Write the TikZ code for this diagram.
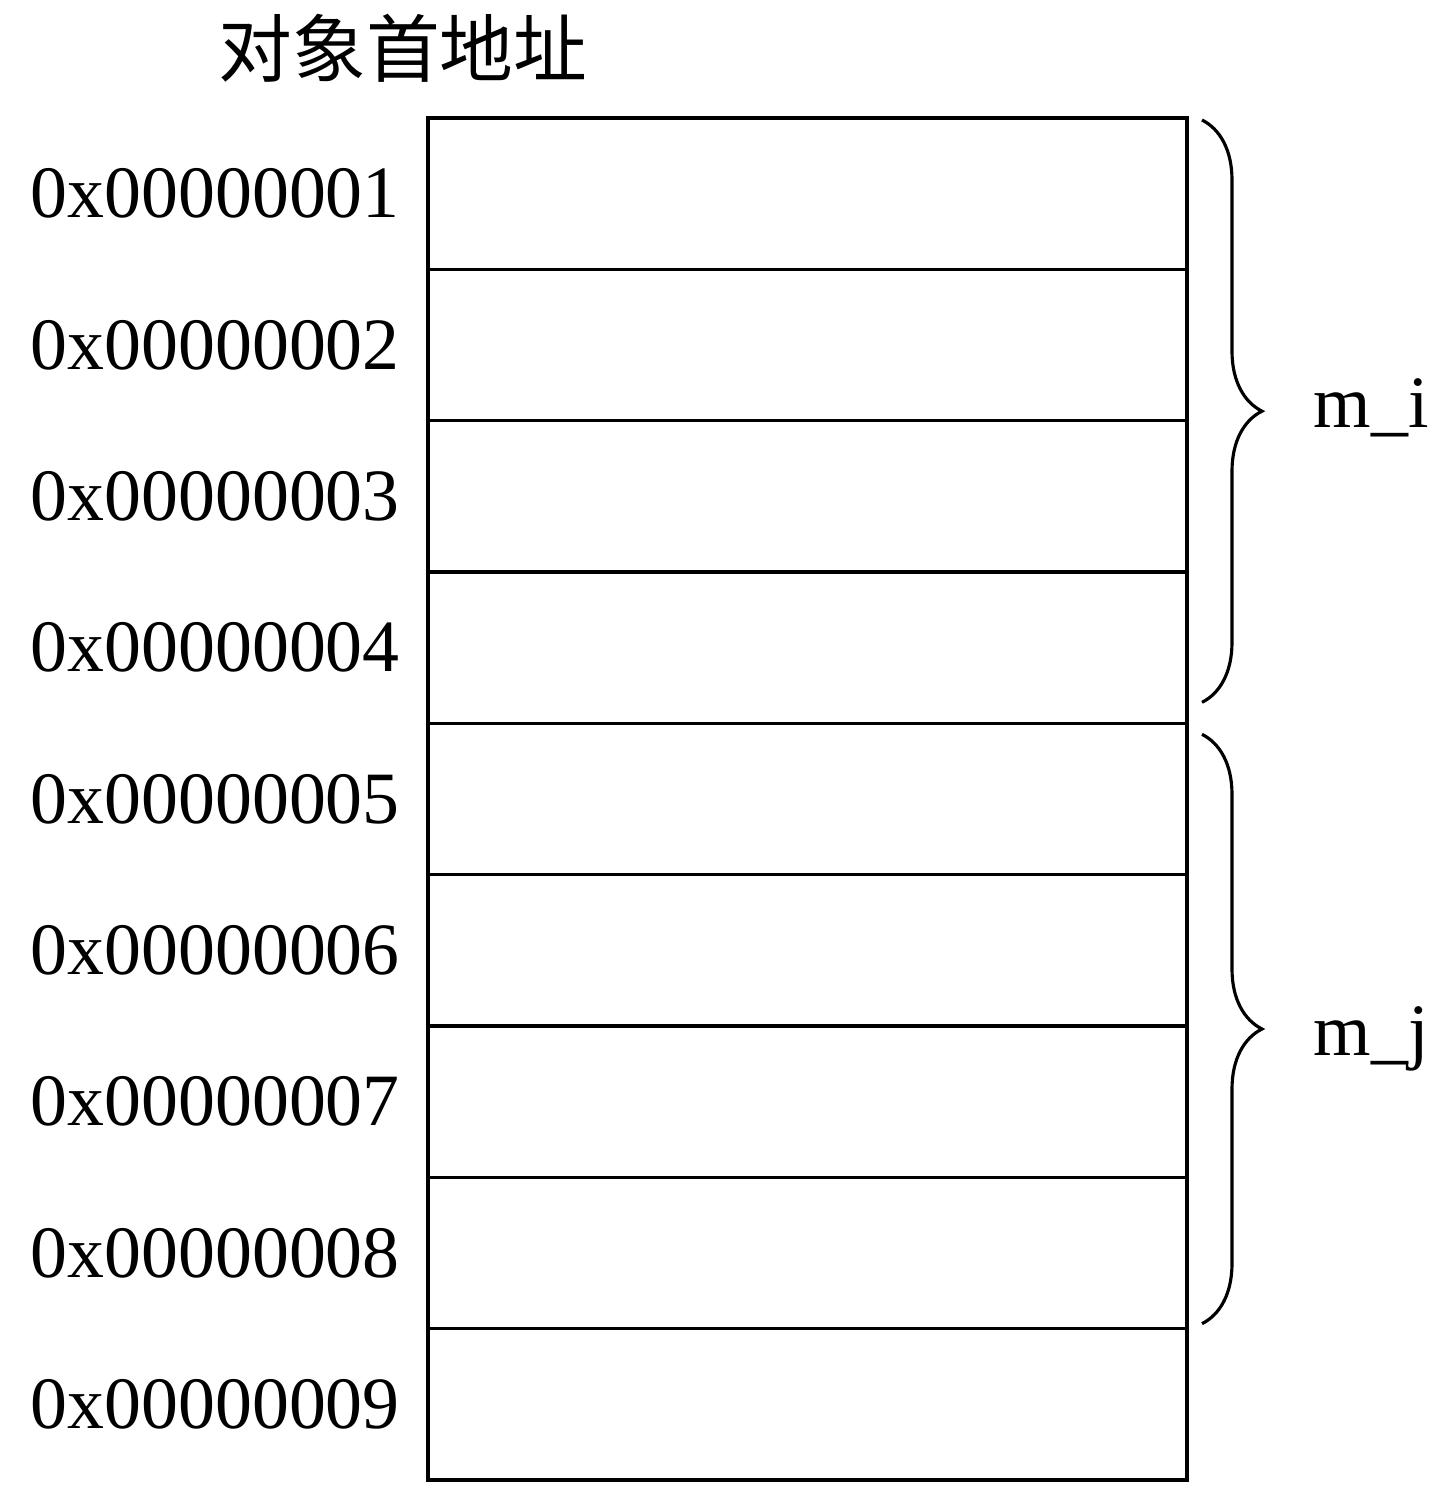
\documentclass[tikz,border=0pt]{standalone}
\usepackage{fontspec}
\setmainfont{Liberation Serif}
\newfontfamily\cjk{Noto Sans CJK SC}
\usetikzlibrary{decorations.pathreplacing}
\begin{document}
\begin{tikzpicture}[
  cell/.style={draw, line width=0.9pt, minimum width=7.59cm, minimum height=1.5133cm, inner sep=0pt, outer sep=0pt, anchor=north},
  addr/.style={font=\fontsize{21}{25}\selectfont, anchor=west, inner sep=0pt},
  brc/.style={decorate, decoration={brace, amplitude=0.6cm}, line width=0.9pt},
  lbl/.style={font=\fontsize{21}{25}\selectfont, anchor=base west, inner sep=0pt},
  ttl/.style={font=\cjk\fontsize{21}{25}\selectfont, inner sep=0pt}]
\useasboundingbox (0,0) rectangle (14.52,-15.09);
\foreach \i in {1,...,9} {
  \node[cell] (c\i) at (8.075,{-1.18-(\i-1)*1.5133}) {};
  \node[addr] (a\i) at (0.30,{-1.18-(\i-0.5)*1.5133}) {0x0000000\i};
}
\node[ttl] (title) at (4.03,-0.48) {对象首地址};
\draw[brc] ([xshift=0.15cm,yshift=-0.02cm]c1.north east) -- ([xshift=0.15cm,yshift=0.21cm]c4.south east);
\draw[brc] ([xshift=0.15cm,yshift=-0.11cm]c5.north east) -- ([xshift=0.15cm,yshift=0.05cm]c8.south east);
\node[lbl] (mi) at (13.13,-4.27) {m\_i};
\node[lbl] (mj) at (13.13,-10.55) {m\_j};
\end{tikzpicture}
\end{document}
